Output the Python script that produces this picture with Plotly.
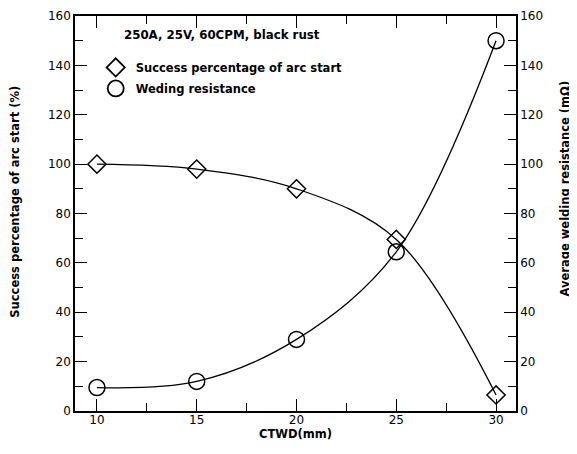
import plotly.graph_objects as go

ctwd = [10, 15, 20, 25, 30]
success_pct = [100, 98, 90, 69.5, 6.5]
resistance = [9.5, 12, 29, 64.5, 150]

x_ticks = [10, 15, 20, 25, 30]
y_ticks = [0, 20, 40, 60, 80, 100, 120, 140, 160]

FONT = "DejaVu Sans, Arial, sans-serif"

fig = go.Figure()

fig.add_trace(go.Scatter(
    x=ctwd, y=success_pct, mode="lines+markers",
    line=dict(color="black", width=1.3, shape="spline", smoothing=1.0),
    marker=dict(symbol="diamond-open", size=14, color="black", line=dict(width=1.5)),
    showlegend=False, yaxis="y"))

fig.add_trace(go.Scatter(
    x=ctwd, y=resistance, mode="lines+markers",
    line=dict(color="black", width=1.3, shape="spline", smoothing=1.0),
    marker=dict(symbol="circle-open", size=16, color="black", line=dict(width=1.5)),
    showlegend=False, yaxis="y2"))

# legend-only entries
fig.add_trace(go.Scatter(
    x=[None], y=[None], mode="markers", name="<b>Success percentage of arc start</b>",
    legendgroup="a",
    marker=dict(symbol="diamond-open", size=14, color="black", line=dict(width=1.8))))
fig.add_trace(go.Scatter(
    x=[None], y=[None], mode="markers", name="<b>Weding resistance</b>",
    legendgroup="b",
    marker=dict(symbol="circle-open", size=16, color="black", line=dict(width=1.8))))

tick_common = dict(
    ticks="inside", ticklen=12, tickwidth=1.4, tickcolor="black",
    showline=True, linecolor="black", linewidth=1.6,
    showgrid=False, zeroline=False, automargin=False,
    tickfont=dict(family=FONT, size=12, color="black"),
)
minor_common = dict(ticks="inside", ticklen=8, tickwidth=1.2, tickcolor="black")

TITLE_FONT = dict(family=FONT, size=11.5, color="black")

# plot area (in figure px): left 67, top 8, width 441, height 395
fig.update_layout(
    width=569, height=446,
    paper_bgcolor="white", plot_bgcolor="white",
    margin=dict(l=67, r=61, t=8, b=43),
    font=dict(family=FONT, color="black"),
    xaxis=dict(
        range=[8.9, 31.0], tickvals=x_ticks, mirror="ticks",
        minor=dict(dtick=2.5, tick0=10, **minor_common),
        title=dict(text="<b>CTWD(mm)</b>", font=TITLE_FONT, standoff=4),
        ticklabelstandoff=-3,
        **tick_common),
    yaxis=dict(
        range=[0, 160], tickvals=y_ticks,
        minor=dict(dtick=10, tick0=0, **minor_common),
        **tick_common),
    yaxis2=dict(
        range=[0, 160], tickvals=y_ticks, overlaying="y", side="right",
        minor=dict(dtick=10, tick0=0, **minor_common),
        **tick_common),
    legend=dict(
        x=0.047, y=0.9065, xanchor="left", yanchor="top",
        bgcolor="rgba(0,0,0,0)", font=dict(family=FONT, size=11.5, color="black"),
        itemwidth=30, traceorder="grouped", tracegroupgap=2),
    annotations=[
        dict(text="<b>250A, 25V, 60CPM, black rust</b>", xref="paper", yref="paper",
             x=0.107, y=0.952, xanchor="left", yanchor="middle", showarrow=False,
             font=dict(family=FONT, size=11.8, color="black")),
        dict(text="<b>Success percentage of arc start (%)</b>", xref="paper", yref="paper",
             x=-0.136, y=0.53, xanchor="center", yanchor="middle", textangle=-90,
             showarrow=False, font=TITLE_FONT),
        dict(text="<b>Average welding resistance (mΩ)</b>", xref="paper", yref="paper",
             x=1.11, y=0.562, xanchor="center", yanchor="middle", textangle=-90,
             showarrow=False, font=TITLE_FONT),
    ],
)

fig.write_html("out.html")
